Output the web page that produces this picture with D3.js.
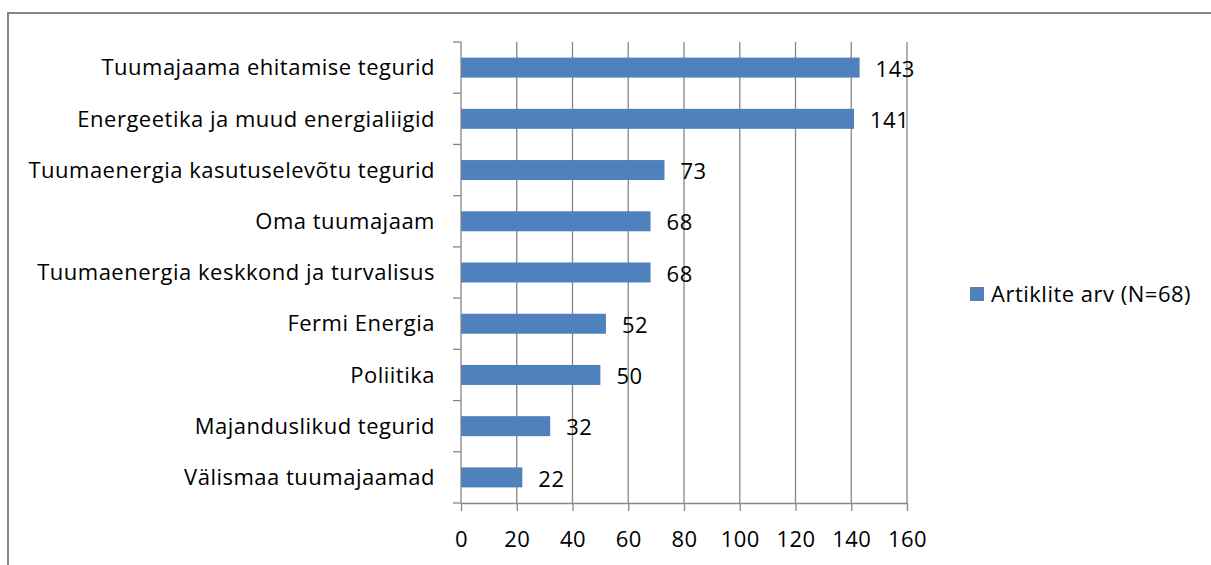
<!DOCTYPE html>
<html>
<head>
<meta charset="utf-8">
<script src="https://cdn.jsdelivr.net/npm/d3@7"></script>
<style>
  body { margin: 0; background: #fff; }
  text { font-family: "Open Sans", sans-serif; fill: #000; font-size: 22px; letter-spacing: 0.5px; }
</style>
</head>
<body>
<div id="chart"></div>
<script>
// data
const categories = [
  "Tuumajaama ehitamise tegurid",
  "Energeetika ja muud energialiigid",
  "Tuumaenergia kasutuselevõtu tegurid",
  "Oma tuumajaam",
  "Tuumaenergia keskkond ja turvalisus",
  "Fermi Energia",
  "Poliitika",
  "Majanduslikud tegurid",
  "Välismaa tuumajaamad"
]
const values = [143, 141, 73, 68, 68, 52, 50, 32, 22]
const xTicks = [0, 20, 40, 60, 80, 100, 120, 140, 160]
const seriesName = "Artiklite arv (N=68)"

const W = 1211, H = 565
const margin = {top: 42, left: 461, right: 304, bottom: 62}
const width = 907 - margin.left
const height = 503 - margin.top
const barColor = "#4f81bd"
const axisColor = "#868686"

const svg = d3.select("#chart").append("svg")
  .attr("width", W).attr("height", H)

// chart frame
svg.append("rect")
  .attr("x", 8).attr("y", 13)
  .attr("width", W + 10).attr("height", H + 10)
  .attr("fill", "none")
  .attr("stroke", axisColor)
  .attr("stroke-width", 2)

const g = svg.append("g")
  .attr("transform", `translate(${margin.left},${margin.top})`)

const x = d3.scaleLinear().domain([0, 160]).range([0, width])
const yBand = d3.scaleBand().domain(categories).range([0, height])

// vertical gridlines
g.selectAll(".grid")
  .data(xTicks.slice(1))
  .enter().append("line")
  .attr("class", "grid")
  .attr("x1", d => x(d)).attr("x2", d => x(d))
  .attr("y1", 0).attr("y2", height)
  .attr("stroke", axisColor).attr("stroke-width", 1.3)

// bars
g.selectAll(".bar")
  .data(values)
  .enter().append("rect")
  .attr("class", "bar")
  .attr("x", 0)
  .attr("y", (d, i) => yBand(categories[i]) + yBand.bandwidth() / 2 - 10)
  .attr("width", d => x(d))
  .attr("height", 20)
  .attr("fill", barColor)

// value labels
g.selectAll(".val")
  .data(values)
  .enter().append("text")
  .attr("class", "val")
  .attr("x", d => x(d) + 16)
  .attr("y", (d, i) => yBand(categories[i]) + yBand.bandwidth() / 2 + 1.5)
  .attr("dy", "0.35em")
  .text(d => d)

// y axis: line + ticks at band edges
g.append("line")
  .attr("x1", 0).attr("x2", 0).attr("y1", 0).attr("y2", height)
  .attr("stroke", axisColor).attr("stroke-width", 1.3)
const edges = categories.map(c => yBand(c)).concat([height])
g.selectAll(".ytick")
  .data(edges)
  .enter().append("line")
  .attr("x1", -8).attr("x2", 0)
  .attr("y1", d => d).attr("y2", d => d)
  .attr("stroke", axisColor).attr("stroke-width", 1.3)

g.selectAll(".cat")
  .data(categories)
  .enter().append("text")
  .attr("class", "cat")
  .attr("x", -26)
  .attr("y", d => yBand(d) + yBand.bandwidth() / 2)
  .attr("dy", "0.35em")
  .attr("text-anchor", "end")
  .text(d => d)

// x axis
const xAxis = g.append("g")
  .attr("transform", `translate(0,${height})`)
  .call(d3.axisBottom(x).tickValues(xTicks).tickSize(8).tickSizeOuter(0).tickPadding(20))
xAxis.select(".domain").attr("stroke", axisColor).attr("stroke-width", 1.3)
xAxis.selectAll(".tick line").attr("stroke", axisColor).attr("stroke-width", 1.3)
xAxis.selectAll(".tick text").style("font-size", "22px").style("font-family", "'Open Sans', sans-serif").attr("fill", "#000")

// legend
const leg = svg.append("g").attr("transform", "translate(970,287)")
leg.append("rect").attr("width", 14).attr("height", 14).attr("fill", barColor)
leg.append("text").attr("x", 21).attr("y", 7).attr("dy", "0.35em")
  .text(seriesName)
</script>
</body>
</html>
